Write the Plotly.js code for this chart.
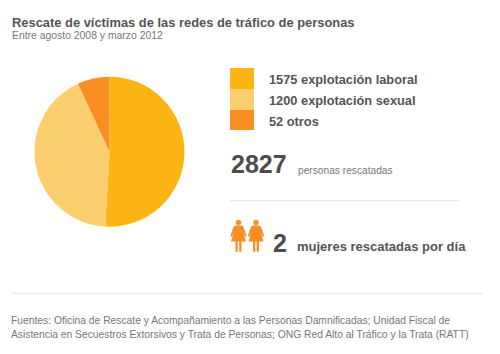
<!DOCTYPE html>
<html><head><meta charset="utf-8">
<script src="https://cdn.plot.ly/plotly-3.0.1.min.js"></script>
<style>html,body{margin:0;padding:0;background:#fff}</style></head>
<body><div id="chart" style="width:500px;height:354px"></div>
<script>
const categories = ['explotación laboral','explotación sexual','otros'];
const counts = [1575,1200,52];
const sliceShares = [50.9,42.2,6.9];
const colors = ['#FDB515','#FBCE70','#F98F22'];
const total = 2827;
const womenPerDay = 2;
const titleText = 'Rescate de víctimas de las redes de tráfico de personas';
const subtitleText = 'Entre agosto 2008 y marzo 2012';
const sourceLines = ['Fuentes: Oficina de Rescate y Acompañamiento a las Personas Damnificadas; Unidad Fiscal de','Asistencia en Secuestros Extorsivos y Trata de Personas; ONG Red Alto al Tráfico y la Trata (RATT)'];

const W=500,H=354,FF='"Liberation Sans",Arial,sans-serif';
const px=x=>x/W, py=y=>1-y/H;
const note=(text,x,y,size,color,bold)=>({text:bold?'<b>'+text+'</b>':text,x:px(x),y:py(y),xref:'paper',yref:'paper',xanchor:'left',yanchor:'middle',showarrow:false,borderpad:0,font:{family:FF,size:size,color:color}});
const annotations=[
 note(titleText,11,22.5,12.9,'#555555',true),
 note(subtitleText,11,36,10.4,'#777777',false),
 note(counts[0]+' '+categories[0],268,79,12.8,'#555555',true),
 note(counts[1]+' '+categories[1],268,100,12.8,'#555555',true),
 note(counts[2]+' '+categories[2],268,121,12.8,'#555555',true),
 note(String(total),230,164,25,'#4d4d4d',true),
 note('personas rescatadas',297,170,10.2,'#777777',false),
 note(String(womenPerDay),272,243,25,'#4d4d4d',true),
 note('mujeres rescatadas por día',296,247,13,'#555555',true),
 note(sourceLines[0],10,320.5,10.3,'#777777',false),
 note(sourceLines[1],10,334,10.3,'#777777',false)
];
const rect=(x0,y0,x1,y1,c)=>({type:'rect',xref:'paper',yref:'paper',x0:px(x0),x1:px(x1),y0:py(y0),y1:py(y1),fillcolor:c,line:{width:0}});
const line=(x0,x1,y)=>({type:'line',xref:'paper',yref:'paper',x0:px(x0),x1:px(x1),y0:py(y),y1:py(y),line:{color:'#dfe3e3',width:1}});
function woman(cx){
 const P=(x,y)=>px(cx+x)+','+py(220+y);
 const poly=a=>'M'+a.map(p=>P(p[0],p[1])).join('L')+'Z';
 const body=poly([[-3.5,5.5],[3.5,5.5],[5,7],[8.2,16],[6.8,17],[4.6,12],[7.5,21.5],[3,21.5],[3,31.7],[0.7,31.7],[0.7,21.5],[-0.7,21.5],[-0.7,31.7],[-3,31.7],[-3,21.5],[-7.5,21.5],[-4.6,12],[-6.8,17],[-8.2,16],[-5,7]]);
 const head=poly([[0,-0.2],[2,0.6],[2.9,2.5],[2,4.4],[0,5.2],[-2,4.4],[-2.9,2.5],[-2,0.6]]);
 return {type:'path',xref:'paper',yref:'paper',path:head+body,fillcolor:colors[2],line:{width:0}};
}
const shapes=[
 rect(230,68,254,89,colors[0]),rect(230,89,254,110,colors[1]),rect(230,110,254,130,colors[2]),
 line(230,459,200.7),line(11,482,293.3),woman(238.5),woman(256)
];
Plotly.newPlot('chart',[{type:'pie',labels:categories,values:sliceShares,sort:false,direction:'clockwise',rotation:0,textinfo:'none',hoverinfo:'label',
 marker:{colors:colors,line:{width:0}},domain:{x:[px(34.5),px(184.5)],y:[py(226.7),py(76.7)]}}],
 {width:W,height:H,margin:{l:0,r:0,t:0,b:0},showlegend:false,paper_bgcolor:'#fff',annotations,shapes},{displayModeBar:false,staticPlot:true});
</script></body></html>
